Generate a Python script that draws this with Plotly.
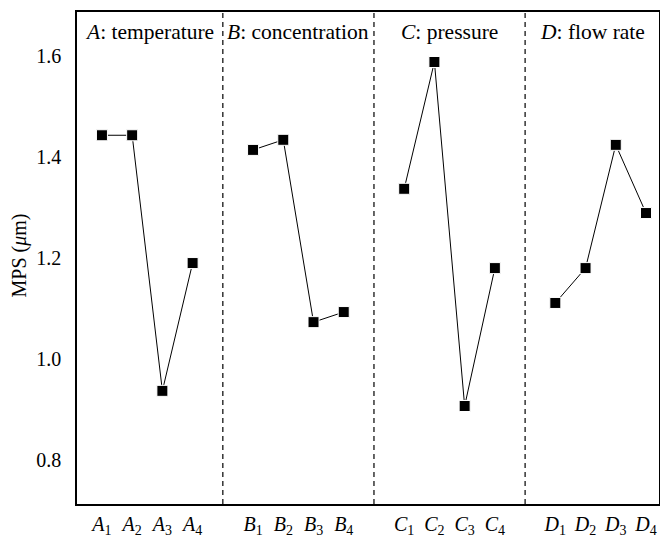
import plotly.graph_objects as go

# Factor levels and mean MPS values (µm) for each level
factors = ["A", "B", "C", "D"]
factor_names = ["temperature", "concentration", "pressure", "flow rate"]
mps_A = [1.443, 1.443, 0.937, 1.190]
mps_B = [1.414, 1.434, 1.073, 1.093]
mps_C = [1.337, 1.588, 0.907, 1.180]
mps_D = [1.111, 1.180, 1.424, 1.289]
y_ticks = [0.8, 1.0, 1.2, 1.4, 1.6]

series = [mps_A, mps_B, mps_C, mps_D]
FONT = "Liberation Serif"
n_levels = 4
group_step = n_levels + 1

fig = go.Figure()
tickvals, ticktext = [], []
for g, (fac, vals) in enumerate(zip(factors, series)):
    xs = [g * group_step + 1 + i for i in range(n_levels)]
    tickvals += xs
    ticktext += [f"<i>{fac}</i><sub>{i + 1}</sub>" for i in range(n_levels)]
    fig.add_trace(go.Scatter(
        x=xs, y=vals, mode="lines+markers",
        line=dict(color="black", width=1),
        marker=dict(symbol="square", size=11, color="black",
                    line=dict(color="white", width=1)),
        showlegend=False, hoverinfo="skip",
    ))

x_lo, x_hi = 0.175, 19.43
bounds = [x_lo] + [g * group_step for g in range(1, len(factors))] + [x_hi]

# dashed separators between factor groups
for xb in bounds[1:-1]:
    fig.add_shape(type="line", x0=xb, x1=xb, y0=0, y1=1, xref="x", yref="paper",
                  line=dict(color="black", width=1.2, dash="5px,4px"))

# group headings
for g, (fac, name) in enumerate(zip(factors, factor_names)):
    fig.add_annotation(x=(bounds[g] + bounds[g + 1]) / 2, y=0.959, xref="x", yref="paper",
                       text=f"<i>{fac}</i>: {name}", showarrow=False,
                       xanchor="center", yanchor="middle",
                       font=dict(family=FONT, size=21.5, color="black"))

fig.add_annotation(x=-0.098, y=0.505, xref="paper", yref="paper",
                   text="MPS (<i>μ</i>m)", textangle=-90, showarrow=False,
                   xanchor="center", yanchor="middle",
                   font=dict(family=FONT, size=20, color="black"))

fig.update_xaxes(range=[x_lo, x_hi], tickvals=tickvals, ticktext=ticktext,
                 showgrid=False, zeroline=False, showline=True, mirror=True,
                 linecolor="black", linewidth=1.5, ticks="", ticklabelstandoff=1,
                 automargin=False,
                 tickfont=dict(family=FONT, size=20, color="black"))
fig.update_yaxes(range=[0.713, 1.687], tickvals=y_ticks,
                 ticktext=[f"{v:.1f}" for v in y_ticks],
                 showgrid=False, zeroline=False, showline=True, mirror=True,
                 linecolor="black", linewidth=1.5, ticks="", ticklabelstandoff=10,
                 automargin=False,
                 tickfont=dict(family=FONT, size=20, color="black"))

fig.update_layout(width=660, height=537, margin=dict(l=77, r=1, t=12, b=33),
                  paper_bgcolor="white", plot_bgcolor="white",
                  font=dict(family=FONT, color="black"))
fig.write_html("out.html")
